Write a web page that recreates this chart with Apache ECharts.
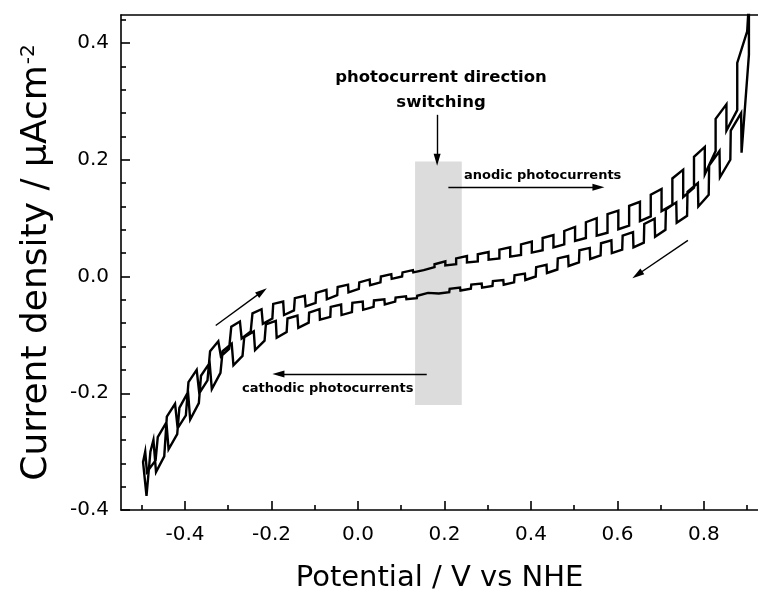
<!DOCTYPE html>
<html>
<head>
<meta charset="utf-8">
<script src="https://cdn.jsdelivr.net/npm/echarts@6/dist/echarts.min.js"></script>
<style>
  html, body { margin: 0; padding: 0; background: #fff; }
  #chart { width: 758px; height: 592px; }
</style>
</head>
<body>
<div id="chart"></div>
<script>
// forward (anodic) scan, chopped light, [potential V, current µA/cm2]
const forwardScan = [
  [-0.489, -0.376], [-0.480, -0.300], [-0.473, -0.280], [-0.467, -0.335],
  [-0.448, -0.308], [-0.442, -0.240], [-0.423, -0.218], [-0.417, -0.260],
  [-0.398, -0.238], [-0.392, -0.181], [-0.373, -0.160], [-0.367, -0.200],
  [-0.348, -0.178], [-0.342, -0.128], [-0.323, -0.111], [-0.317, -0.137],
  [-0.298, -0.124], [-0.293, -0.086], [-0.273, -0.077], [-0.269, -0.106],
  [-0.248, -0.094], [-0.244, -0.063], [-0.223, -0.056], [-0.220, -0.081],
  [-0.198, -0.072], [-0.196, -0.047], [-0.173, -0.043], [-0.171, -0.066],
  [-0.148, -0.058], [-0.146, -0.037], [-0.123, -0.033], [-0.121, -0.051],
  [-0.098, -0.045], [-0.097, -0.028], [-0.073, -0.023], [-0.072, -0.039],
  [-0.048, -0.032], [-0.047, -0.018], [-0.023, -0.014], [-0.022, -0.027],
  [0.002, -0.021], [0.003, -0.010], [0.027, -0.005], [0.028, -0.015],
  [0.052, -0.010], [0.053, 0.000], [0.077, 0.004], [0.078, -0.004],
  [0.102, 0.000], [0.103, 0.007], [0.127, 0.011], [0.128, 0.007],
  [0.152, 0.011], [0.153, 0.013], [0.177, 0.016], [0.177, 0.021],
  [0.202, 0.026], [0.202, 0.019], [0.227, 0.021], [0.227, 0.031],
  [0.252, 0.035], [0.252, 0.024], [0.277, 0.026], [0.277, 0.038],
  [0.302, 0.042], [0.302, 0.029], [0.327, 0.031], [0.327, 0.046],
  [0.352, 0.050], [0.352, 0.034], [0.377, 0.037], [0.377, 0.055],
  [0.402, 0.060], [0.402, 0.041], [0.427, 0.045], [0.427, 0.066],
  [0.452, 0.071], [0.452, 0.050], [0.477, 0.055], [0.477, 0.078],
  [0.502, 0.085], [0.502, 0.061], [0.527, 0.066], [0.527, 0.093],
  [0.552, 0.100], [0.552, 0.070], [0.577, 0.075], [0.577, 0.107],
  [0.602, 0.113], [0.602, 0.081], [0.627, 0.087], [0.627, 0.121],
  [0.652, 0.128], [0.652, 0.095], [0.677, 0.103], [0.677, 0.140],
  [0.702, 0.150], [0.702, 0.112], [0.727, 0.123], [0.727, 0.168],
  [0.752, 0.183], [0.752, 0.136], [0.777, 0.152], [0.777, 0.205],
  [0.802, 0.222], [0.802, 0.175], [0.827, 0.215], [0.827, 0.270],
  [0.852, 0.295], [0.852, 0.250], [0.877, 0.285], [0.877, 0.366],
  [0.900, 0.420], [0.904, 0.470]
];

// reverse (cathodic) scan back to -0.5 V
const reverseScan = [
  [0.904, 0.380], [0.887, 0.212], [0.886, 0.280], [0.862, 0.250],
  [0.861, 0.200], [0.837, 0.170], [0.836, 0.215], [0.812, 0.190],
  [0.811, 0.140], [0.787, 0.120], [0.786, 0.160], [0.762, 0.145],
  [0.761, 0.104], [0.737, 0.092], [0.736, 0.127], [0.712, 0.115],
  [0.711, 0.080], [0.687, 0.068], [0.686, 0.099], [0.662, 0.090],
  [0.661, 0.058], [0.637, 0.050], [0.636, 0.076], [0.612, 0.070],
  [0.611, 0.046], [0.587, 0.040], [0.586, 0.062], [0.562, 0.057],
  [0.561, 0.036], [0.537, 0.030], [0.536, 0.049], [0.512, 0.045],
  [0.511, 0.024], [0.487, 0.018], [0.486, 0.035], [0.462, 0.031],
  [0.461, 0.012], [0.437, 0.006], [0.436, 0.020], [0.412, 0.016],
  [0.411, 0.000], [0.387, -0.006], [0.386, 0.005], [0.362, 0.002],
  [0.361, -0.010], [0.337, -0.014], [0.336, -0.006], [0.312, -0.008],
  [0.311, -0.016], [0.287, -0.019], [0.286, -0.012], [0.262, -0.014],
  [0.261, -0.021], [0.237, -0.024], [0.236, -0.019], [0.212, -0.021],
  [0.211, -0.027], [0.187, -0.029], [0.186, -0.026], [0.162, -0.028],
  [0.161, -0.031], [0.137, -0.033], [0.136, -0.037], [0.112, -0.039],
  [0.111, -0.034], [0.087, -0.036], [0.086, -0.043], [0.062, -0.048],
  [0.061, -0.039], [0.037, -0.041], [0.036, -0.052], [0.012, -0.057],
  [0.011, -0.043], [-0.013, -0.045], [-0.014, -0.061], [-0.038, -0.066],
  [-0.039, -0.048], [-0.063, -0.052], [-0.064, -0.069], [-0.088, -0.074],
  [-0.089, -0.056], [-0.113, -0.062], [-0.114, -0.079], [-0.138, -0.088],
  [-0.140, -0.067], [-0.163, -0.072], [-0.165, -0.095], [-0.188, -0.105],
  [-0.190, -0.076], [-0.213, -0.082], [-0.216, -0.110], [-0.238, -0.126],
  [-0.241, -0.094], [-0.263, -0.104], [-0.267, -0.136], [-0.288, -0.152],
  [-0.292, -0.115], [-0.313, -0.128], [-0.318, -0.165], [-0.338, -0.193],
  [-0.343, -0.148], [-0.363, -0.170], [-0.368, -0.217], [-0.388, -0.245],
  [-0.393, -0.198], [-0.413, -0.225], [-0.418, -0.270], [-0.438, -0.296],
  [-0.443, -0.250], [-0.463, -0.275], [-0.468, -0.315], [-0.488, -0.335],
  [-0.492, -0.300], [-0.497, -0.318]
];

// axis ticks
const xMajorTicks = [-0.4, -0.2, 0.0, 0.2, 0.4, 0.6, 0.8];
const xMinorTicks = [-0.5, -0.3, -0.1, 0.1, 0.3, 0.5, 0.7, 0.9];
const yMajorTicks = [-0.4, -0.2, 0.0, 0.2, 0.4];
const yMinorTicks = [-0.36, -0.32, -0.28, -0.24, -0.16, -0.12, -0.08, -0.04,
  0.04, 0.08, 0.12, 0.16, 0.24, 0.28, 0.32, 0.36, 0.44];

// annotations (data coordinates)
const switchBand = [[0.132, 0.197], [0.240, -0.220]];
const arrowLines = [
  [[0.183, 0.277], [0.183, 0.200]],
  [[0.209, 0.153], [0.556, 0.153]],
  [[0.159, -0.167], [-0.184, -0.167]],
  [[-0.329, -0.084], [-0.222, -0.026]],
  [[0.763, 0.062], [0.646, 0.003]]
];
const noteTexts = ["photocurrent direction\nswitching", "anodic photocurrents", "cathodic photocurrents"];
const notePos = [[0.192, 0.319], [0.427, 0.173], [-0.070, -0.192]];
const noteSize = [16.5, 13, 13];

const cvLoop = forwardScan.concat(reverseScan, [forwardScan[0]]);

const FONT = "DejaVu Sans";
const axisStyle = { color: "#000", width: 1.6 };
const xMin = -0.548, xMax = 0.925;
const yMin = -0.4, yMax = 0.448;

const chart = echarts.init(document.getElementById("chart"), null, { renderer: "canvas" });

const option = {
  animation: false,
  backgroundColor: "#fff",
  grid: { left: 121, right: 0, top: 15, bottom: 82, containLabel: false, outerBoundsMode: "none" },
  xAxis: [
    {
      type: "value", min: xMin, max: xMax, position: "bottom",
      axisLine: { onZero: false, lineStyle: axisStyle },
      axisTick: { inside: true, length: 9, customValues: xMajorTicks, lineStyle: axisStyle },
      axisLabel: {
        customValues: xMajorTicks, margin: 15, color: "#000",
        fontFamily: FONT, fontSize: 20,
        formatter: (v) => v.toFixed(1),
      },
      splitLine: { show: false },
      name: "Potential / V vs NHE",
      nameLocation: "middle",
      nameGap: 54,
      nameTextStyle: { fontFamily: FONT, fontSize: 29, color: "#000" },
    },
    {
      type: "value", min: xMin, max: xMax, position: "bottom",
      axisLine: { show: false, onZero: false },
      axisTick: { inside: true, length: 5, customValues: xMinorTicks, lineStyle: axisStyle },
      axisLabel: { show: false },
      splitLine: { show: false },
    },
    {
      type: "value", min: xMin, max: xMax, position: "top",
      axisLine: { onZero: false, lineStyle: axisStyle },
      axisTick: { show: false },
      axisLabel: { show: false },
      splitLine: { show: false },
    },
  ],
  yAxis: [
    {
      type: "value", min: yMin, max: yMax, position: "left",
      axisLine: { show: true, onZero: false, lineStyle: axisStyle },
      axisTick: { show: true, inside: true, length: 9, customValues: yMajorTicks, lineStyle: axisStyle },
      axisLabel: {
        customValues: yMajorTicks, margin: 12, color: "#000",
        fontFamily: FONT, fontSize: 20,
        formatter: (v) => v.toFixed(1),
      },
      splitLine: { show: false },
      name: "{t|Current density / μAcm}{s|-2}",
      nameLocation: "middle",
      nameRotate: 90,
      nameGap: 66,
      nameTextStyle: {
        color: "#000",
        rich: {
          t: { fontFamily: FONT, fontSize: 36, color: "#000" },
          s: { fontFamily: FONT, fontSize: 20, color: "#000", verticalAlign: "top", padding: [0, 0, 16, 1] },
        },
      },
    },
    {
      type: "value", min: yMin, max: yMax, position: "left",
      axisLine: { show: false, onZero: false },
      axisTick: { show: true, inside: true, length: 5, customValues: yMinorTicks, lineStyle: axisStyle },
      axisLabel: { show: false },
      splitLine: { show: false },
    },
  ],
  series: [
    {
      name: "CV",
      type: "line",
      xAxisIndex: 0,
      yAxisIndex: 0,
      data: cvLoop,
      showSymbol: false,
      symbol: "none",
      clip: true,
      silent: true,
      lineStyle: { color: "#000", width: 2.4, join: "miter" },
      markArea: {
        silent: true,
        itemStyle: { color: "#dcdcdc", opacity: 1 },
        data: [[{ coord: switchBand[0] }, { coord: switchBand[1] }]],
      },
      markLine: {
        silent: true,
        symbol: ["none", "triangle"],
        symbolSize: [7, 12],
        label: { show: false },
        lineStyle: { color: "#000", width: 1.4, type: "solid" },
        emphasis: { disabled: true },
        data: arrowLines.map((a) => [{ coord: a[0] }, { coord: a[1] }]),
      },
      markPoint: {
        silent: true,
        symbol: "circle",
        symbolSize: 0,
        data: noteTexts.map((t, i) => ({
          coord: notePos[i],
          label: {
            show: true,
            position: "inside",
            formatter: t,
            color: "#000",
            fontFamily: FONT,
            fontWeight: "bold",
            fontSize: noteSize[i],
            lineHeight: noteSize[i] * 1.5,
            align: "center",
          },
        })),
      },
    },
  ],
};

chart.setOption(option);
</script>
</body>
</html>
